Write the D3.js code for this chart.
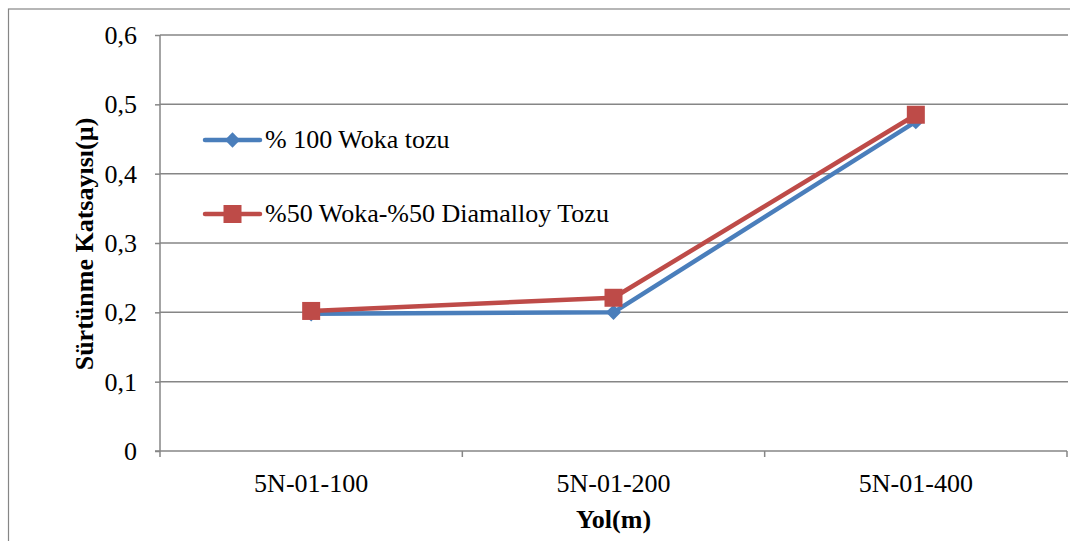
<!DOCTYPE html>
<html>
<head>
<meta charset="utf-8">
<script src="https://cdn.jsdelivr.net/npm/d3@7"></script>
<style>
  body { margin: 0; background: #fff; }
  text { font-family: "Liberation Serif", "Times New Roman", serif; fill: #000; }
</style>
</head>
<body>
<svg id="chart"></svg>
<script>
// chart data
var categories = ["5N-01-100", "5N-01-200", "5N-01-400"];
var seriesNames = ["% 100 Woka tozu", "%50 Woka-%50 Diamalloy Tozu"];
var wokaValues = [0.198, 0.200, 0.475];
var mixValues = [0.202, 0.221, 0.485];
var yTicks = [0, 0.1, 0.2, 0.3, 0.4, 0.5, 0.6];

var colors = ["#4A7EBB", "#BE4B48"];
var serif = "'Liberation Serif', 'Times New Roman', serif";
var fontSize = "26px";

var screen = {width: 1070, height: 541};
var margins = {top: 35, left: 160};
var graph = {
    width: 1067 - margins.left,
    height: 451 - margins.top
};

var svg = d3.select("#chart")
    .attr("width", screen.width)
    .attr("height", screen.height);

// outer frame
svg.append("rect")
    .attr("x", 8.5).attr("y", 9)
    .attr("width", 1080).attr("height", 560)
    .attr("fill", "none")
    .attr("stroke", "#868686")
    .attr("stroke-width", 1.2);

var xScale = d3.scaleBand()
    .domain(categories)
    .range([0, graph.width]);

var yScale = d3.scaleLinear()
    .domain([0, 0.6])
    .range([graph.height, 0]);

var g = svg.append("g")
    .attr("transform", "translate(" + margins.left + "," + margins.top + ")");

// gridlines
g.append("g")
    .selectAll("line")
    .data(yTicks.filter(function(d) { return d > 0; }))
    .enter()
    .append("line")
    .attr("x1", 0)
    .attr("x2", graph.width + 1)
    .attr("y1", function(d) { return yScale(d); })
    .attr("y2", function(d) { return yScale(d); })
    .attr("stroke", "#868686")
    .attr("stroke-width", 1.5);

// axes
var yAxis = d3.axisLeft(yScale)
    .tickValues(yTicks)
    .tickSize(5)
    .tickFormat(function(d) { return d === 0 ? "0" : d3.format(".1f")(d).replace(".", ","); });

var xAxis = d3.axisBottom(xScale)
    .tickSize(0);

var yG = g.append("g").call(yAxis);
var xG = g.append("g")
    .attr("transform", "translate(0," + graph.height + ")")
    .call(xAxis);

[yG, xG].forEach(function(a) {
    a.attr("font-family", serif);
    a.selectAll("path, line").attr("stroke", "#868686").attr("stroke-width", 1.5);
});
yG.select(".domain").remove();
yG.append("line")
    .attr("x1", 0).attr("x2", 0)
    .attr("y1", 0).attr("y2", graph.height)
    .attr("stroke", "#868686").attr("stroke-width", 1.5);
yG.selectAll(".tick text")
    .attr("x", -23)
    .attr("dy", "0.33em")
    .style("font-size", fontSize)
    .style("font-family", serif);

xG.select(".domain").remove();
xG.append("line")
    .attr("x1", -5).attr("x2", graph.width)
    .attr("y1", 0).attr("y2", 0)
    .attr("stroke", "#868686").attr("stroke-width", 1.5);
// category boundary ticks
xG.selectAll(".bound")
    .data(d3.range(categories.length + 1))
    .enter()
    .append("line")
    .attr("x1", function(i) { return i * xScale.step(); })
    .attr("x2", function(i) { return i * xScale.step(); })
    .attr("y1", 0).attr("y2", 6)
    .attr("stroke", "#868686").attr("stroke-width", 1.5);
xG.selectAll(".tick text")
    .attr("y", 40.5)
    .attr("dy", 0)
    .style("font-size", fontSize)
    .style("font-family", serif);

// axis titles
svg.append("text")
    .attr("x", margins.left + graph.width / 2)
    .attr("y", 528)
    .attr("text-anchor", "middle")
    .style("font-size", fontSize)
    .style("font-weight", "bold")
    .style("font-family", serif)
    .text("Yol(m)");

svg.append("text")
    .attr("transform", "translate(93,244) rotate(-90)")
    .attr("text-anchor", "middle")
    .style("font-size", fontSize)
    .style("font-weight", "bold")
    .style("font-family", serif)
    .text("Sürtünme Katsayısı(µ)");

// lines
var line = d3.line()
    .x(function(d, i) { return xScale(categories[i]) + xScale.bandwidth() / 2; })
    .y(function(d) { return yScale(d); });

var allSeries = [wokaValues, mixValues];

allSeries.forEach(function(vals, s) {
    g.append("path")
        .datum(vals)
        .attr("d", line)
        .attr("fill", "none")
        .attr("stroke", colors[s])
        .attr("stroke-width", 4.5)
        .attr("stroke-linejoin", "round");
});

var diamond = d3.symbol().type(d3.symbolDiamond2).size(150);

g.selectAll(".diamond")
    .data(wokaValues)
    .enter()
    .append("path")
    .attr("d", diamond)
    .attr("transform", function(d, i) {
        return "translate(" + (xScale(categories[i]) + xScale.bandwidth() / 2) + "," + yScale(d) + ")";
    })
    .attr("fill", colors[0]);

g.selectAll(".square")
    .data(mixValues)
    .enter()
    .append("rect")
    .attr("x", function(d, i) { return xScale(categories[i]) + xScale.bandwidth() / 2 - 9; })
    .attr("y", function(d) { return yScale(d) - 9; })
    .attr("width", 18)
    .attr("height", 18)
    .attr("fill", colors[1]);

// legend
var legend = svg.append("g").attr("transform", "translate(205,140)");
seriesNames.forEach(function(name, s) {
    var row = legend.append("g").attr("transform", "translate(0," + (s * 74) + ")");
    row.append("line")
        .attr("x1", 0).attr("x2", 55)
        .attr("stroke", colors[s])
        .attr("stroke-width", 4.5)
        .attr("stroke-linecap", "round");
    if (s === 0) {
        row.append("path")
            .attr("d", diamond)
            .attr("transform", "translate(27.5,0)")
            .attr("fill", colors[0]);
    } else {
        row.append("rect")
            .attr("x", 18.5).attr("y", -9)
            .attr("width", 18).attr("height", 18)
            .attr("fill", colors[1]);
    }
    row.append("text")
        .attr("x", 60)
        .attr("dy", "0.32em")
        .style("font-size", fontSize)
        .style("font-family", serif)
        .text(name);
});
</script>
</body>
</html>
